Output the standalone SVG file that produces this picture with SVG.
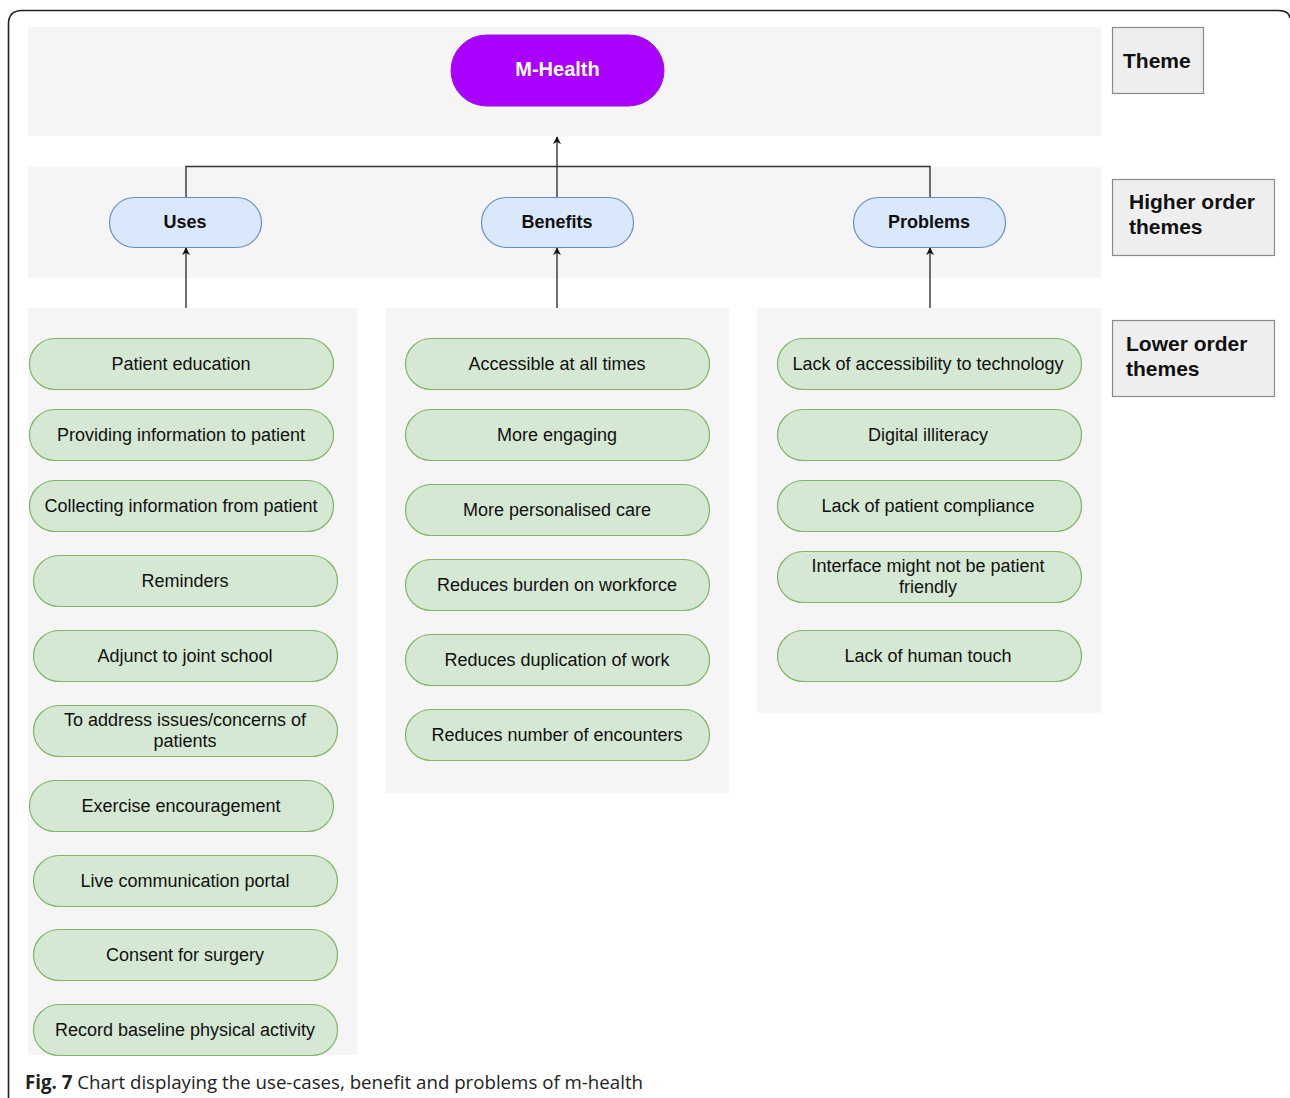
<svg xmlns="http://www.w3.org/2000/svg" width="1290" height="1098" viewBox="0 0 1290 1098">
  <defs>
    <marker id="arrow" viewBox="0 0 10 10" refX="9" refY="5" markerWidth="8" markerHeight="8" orient="auto-start-reverse" markerUnits="userSpaceOnUse">
      <path d="M0,0 L10,5 L0,10 L3,5 Z" fill="#111"/>
    </marker>
  </defs>
  <style>
    .band { fill: #f5f5f5; }
    .legend rect { fill: #eeeeee; stroke: #8a8a8a; stroke-width: 1.2; }
    .legend text { font-family: "Liberation Sans", Arial, sans-serif; font-weight: bold; font-size: 21px; fill: #111; }
    .top rect { fill: #aa00ff; stroke: #9a10e0; stroke-width: 1; }
    .top text { font-family: "Liberation Sans", Arial, sans-serif; font-weight: bold; font-size: 20px; fill: #ffffff; text-anchor: middle; dominant-baseline: central; }
    .mid rect { fill: #dae8fc; stroke: #6c8ebf; stroke-width: 1.2; }
    .mid text { font-family: "Liberation Sans", Arial, sans-serif; font-weight: bold; font-size: 18px; fill: #111; text-anchor: middle; dominant-baseline: central; }
    .leaf rect { fill: #d5e8d4; stroke: #82b366; stroke-width: 1.2; }
    .leaf text { font-family: "Liberation Sans", Arial, sans-serif; font-size: 18px; fill: #111; text-anchor: middle; dominant-baseline: central; }
    .conn { stroke: #333; stroke-width: 1.4; fill: none; }
  </style>

  <rect width="1290" height="1098" fill="#ffffff"/>

  <!-- figure frame -->
  <path d="M8.5,1098 L8.5,24 Q8.5,10.5 22,10.5 L1278,10.5 Q1289,10.5 1290,18" fill="none" stroke="#222" stroke-width="1.6"/>

  <!-- background bands -->
  <g id="bands">
    <rect class="band" x="28" y="27" width="1073" height="109"/>
    <rect class="band" x="28" y="167" width="1073" height="111"/>
    <rect class="band" x="28" y="308" width="329" height="747"/>
    <rect class="band" x="386" y="308" width="343" height="485"/>
    <rect class="band" x="757" y="308" width="344" height="405"/>
  </g>

  <!-- legend -->
  <g id="legend-theme" class="legend">
    <rect x="1112.5" y="27.5" width="91" height="66"/>
    <text x="1123" y="68">Theme</text>
  </g>
  <g id="legend-higher" class="legend">
    <rect x="1112.5" y="179.5" width="162" height="76"/>
    <text x="1129" y="209">Higher order</text>
    <text x="1129" y="234">themes</text>
  </g>
  <g id="legend-lower" class="legend">
    <rect x="1112.5" y="320.5" width="162" height="76"/>
    <text x="1126" y="351">Lower order</text>
    <text x="1126" y="376">themes</text>
  </g>

  <!-- connectors -->
  <g id="connectors">
    <path class="conn" d="M186,197 L186,166.5 L930,166.5 L930,197"/>
    <path class="conn" d="M557,197 L557,137" marker-end="url(#arrow)"/>
    <path class="conn" d="M186,308 L186,248" marker-end="url(#arrow)"/>
    <path class="conn" d="M557,308 L557,248" marker-end="url(#arrow)"/>
    <path class="conn" d="M930,308 L930,248" marker-end="url(#arrow)"/>
  </g>

  <!-- theme -->
  <g id="m-health" class="top">
    <rect x="451" y="35" width="213" height="71" rx="35.5"/>
    <text x="557.5" y="69">M-Health</text>
  </g>

  <!-- higher order themes -->
  <g id="uses" class="mid">
    <rect x="109.5" y="197.5" width="152" height="50" rx="25"/>
    <text x="185" y="222">Uses</text>
  </g>
  <g id="benefits" class="mid">
    <rect x="481.5" y="197.5" width="152" height="50" rx="25"/>
    <text x="557" y="222">Benefits</text>
  </g>
  <g id="problems" class="mid">
    <rect x="853.5" y="197.5" width="152" height="50" rx="25"/>
    <text x="929" y="222">Problems</text>
  </g>

  <!-- lower order themes: uses -->
  <g id="u1" class="leaf"><rect x="29.5" y="338.5" width="304" height="51" rx="25.5"/><text x="181" y="364">Patient education</text></g>
  <g id="u2" class="leaf"><rect x="29.5" y="409.5" width="304" height="51" rx="25.5"/><text x="181" y="435">Providing information to patient</text></g>
  <g id="u3" class="leaf"><rect x="29.5" y="480.5" width="304" height="51" rx="25.5"/><text x="181" y="506">Collecting information from patient</text></g>
  <g id="u4" class="leaf"><rect x="33.5" y="555.5" width="304" height="51" rx="25.5"/><text x="185" y="581">Reminders</text></g>
  <g id="u5" class="leaf"><rect x="33.5" y="630.5" width="304" height="51" rx="25.5"/><text x="185" y="656">Adjunct to joint school</text></g>
  <g id="u6" class="leaf"><rect x="33.5" y="705.5" width="304" height="51" rx="25.5"/><text x="185" y="720">To address issues/concerns of</text><text x="185" y="741">patients</text></g>
  <g id="u7" class="leaf"><rect x="29.5" y="780.5" width="304" height="51" rx="25.5"/><text x="181" y="806">Exercise encouragement</text></g>
  <g id="u8" class="leaf"><rect x="33.5" y="855.5" width="304" height="51" rx="25.5"/><text x="185" y="881">Live communication portal</text></g>
  <g id="u9" class="leaf"><rect x="33.5" y="929.5" width="304" height="51" rx="25.5"/><text x="185" y="955">Consent for surgery</text></g>
  <g id="u10" class="leaf"><rect x="33.5" y="1004.5" width="304" height="51" rx="25.5"/><text x="185" y="1030">Record baseline physical activity</text></g>

  <!-- lower order themes: benefits -->
  <g id="b1" class="leaf"><rect x="405.5" y="338.5" width="304" height="51" rx="25.5"/><text x="557" y="364">Accessible at all times</text></g>
  <g id="b2" class="leaf"><rect x="405.5" y="409.5" width="304" height="51" rx="25.5"/><text x="557" y="435">More engaging</text></g>
  <g id="b3" class="leaf"><rect x="405.5" y="484.5" width="304" height="51" rx="25.5"/><text x="557" y="510">More personalised care</text></g>
  <g id="b4" class="leaf"><rect x="405.5" y="559.5" width="304" height="51" rx="25.5"/><text x="557" y="585">Reduces burden on workforce</text></g>
  <g id="b5" class="leaf"><rect x="405.5" y="634.5" width="304" height="51" rx="25.5"/><text x="557" y="660">Reduces duplication of work</text></g>
  <g id="b6" class="leaf"><rect x="405.5" y="709.5" width="304" height="51" rx="25.5"/><text x="557" y="735">Reduces number of encounters</text></g>

  <!-- lower order themes: problems -->
  <g id="p1" class="leaf"><rect x="777.5" y="338.5" width="304" height="51" rx="25.5"/><text x="928" y="364">Lack of accessibility to technology</text></g>
  <g id="p2" class="leaf"><rect x="777.5" y="409.5" width="304" height="51" rx="25.5"/><text x="928" y="435">Digital illiteracy</text></g>
  <g id="p3" class="leaf"><rect x="777.5" y="480.5" width="304" height="51" rx="25.5"/><text x="928" y="506">Lack of patient compliance</text></g>
  <g id="p4" class="leaf"><rect x="777.5" y="551.5" width="304" height="51" rx="25.5"/><text x="928" y="566">Interface might not be patient</text><text x="928" y="587">friendly</text></g>
  <g id="p5" class="leaf"><rect x="777.5" y="630.5" width="304" height="51" rx="25.5"/><text x="928" y="656">Lack of human touch</text></g>

  <!-- caption -->
  <text x="25" y="1089" font-family="'Open Sans', 'Liberation Sans', sans-serif" font-size="19" fill="#222" textLength="618" lengthAdjust="spacingAndGlyphs"><tspan font-weight="bold">Fig. 7</tspan> Chart displaying the use-cases, benefit and problems of m-health</text>
</svg>
